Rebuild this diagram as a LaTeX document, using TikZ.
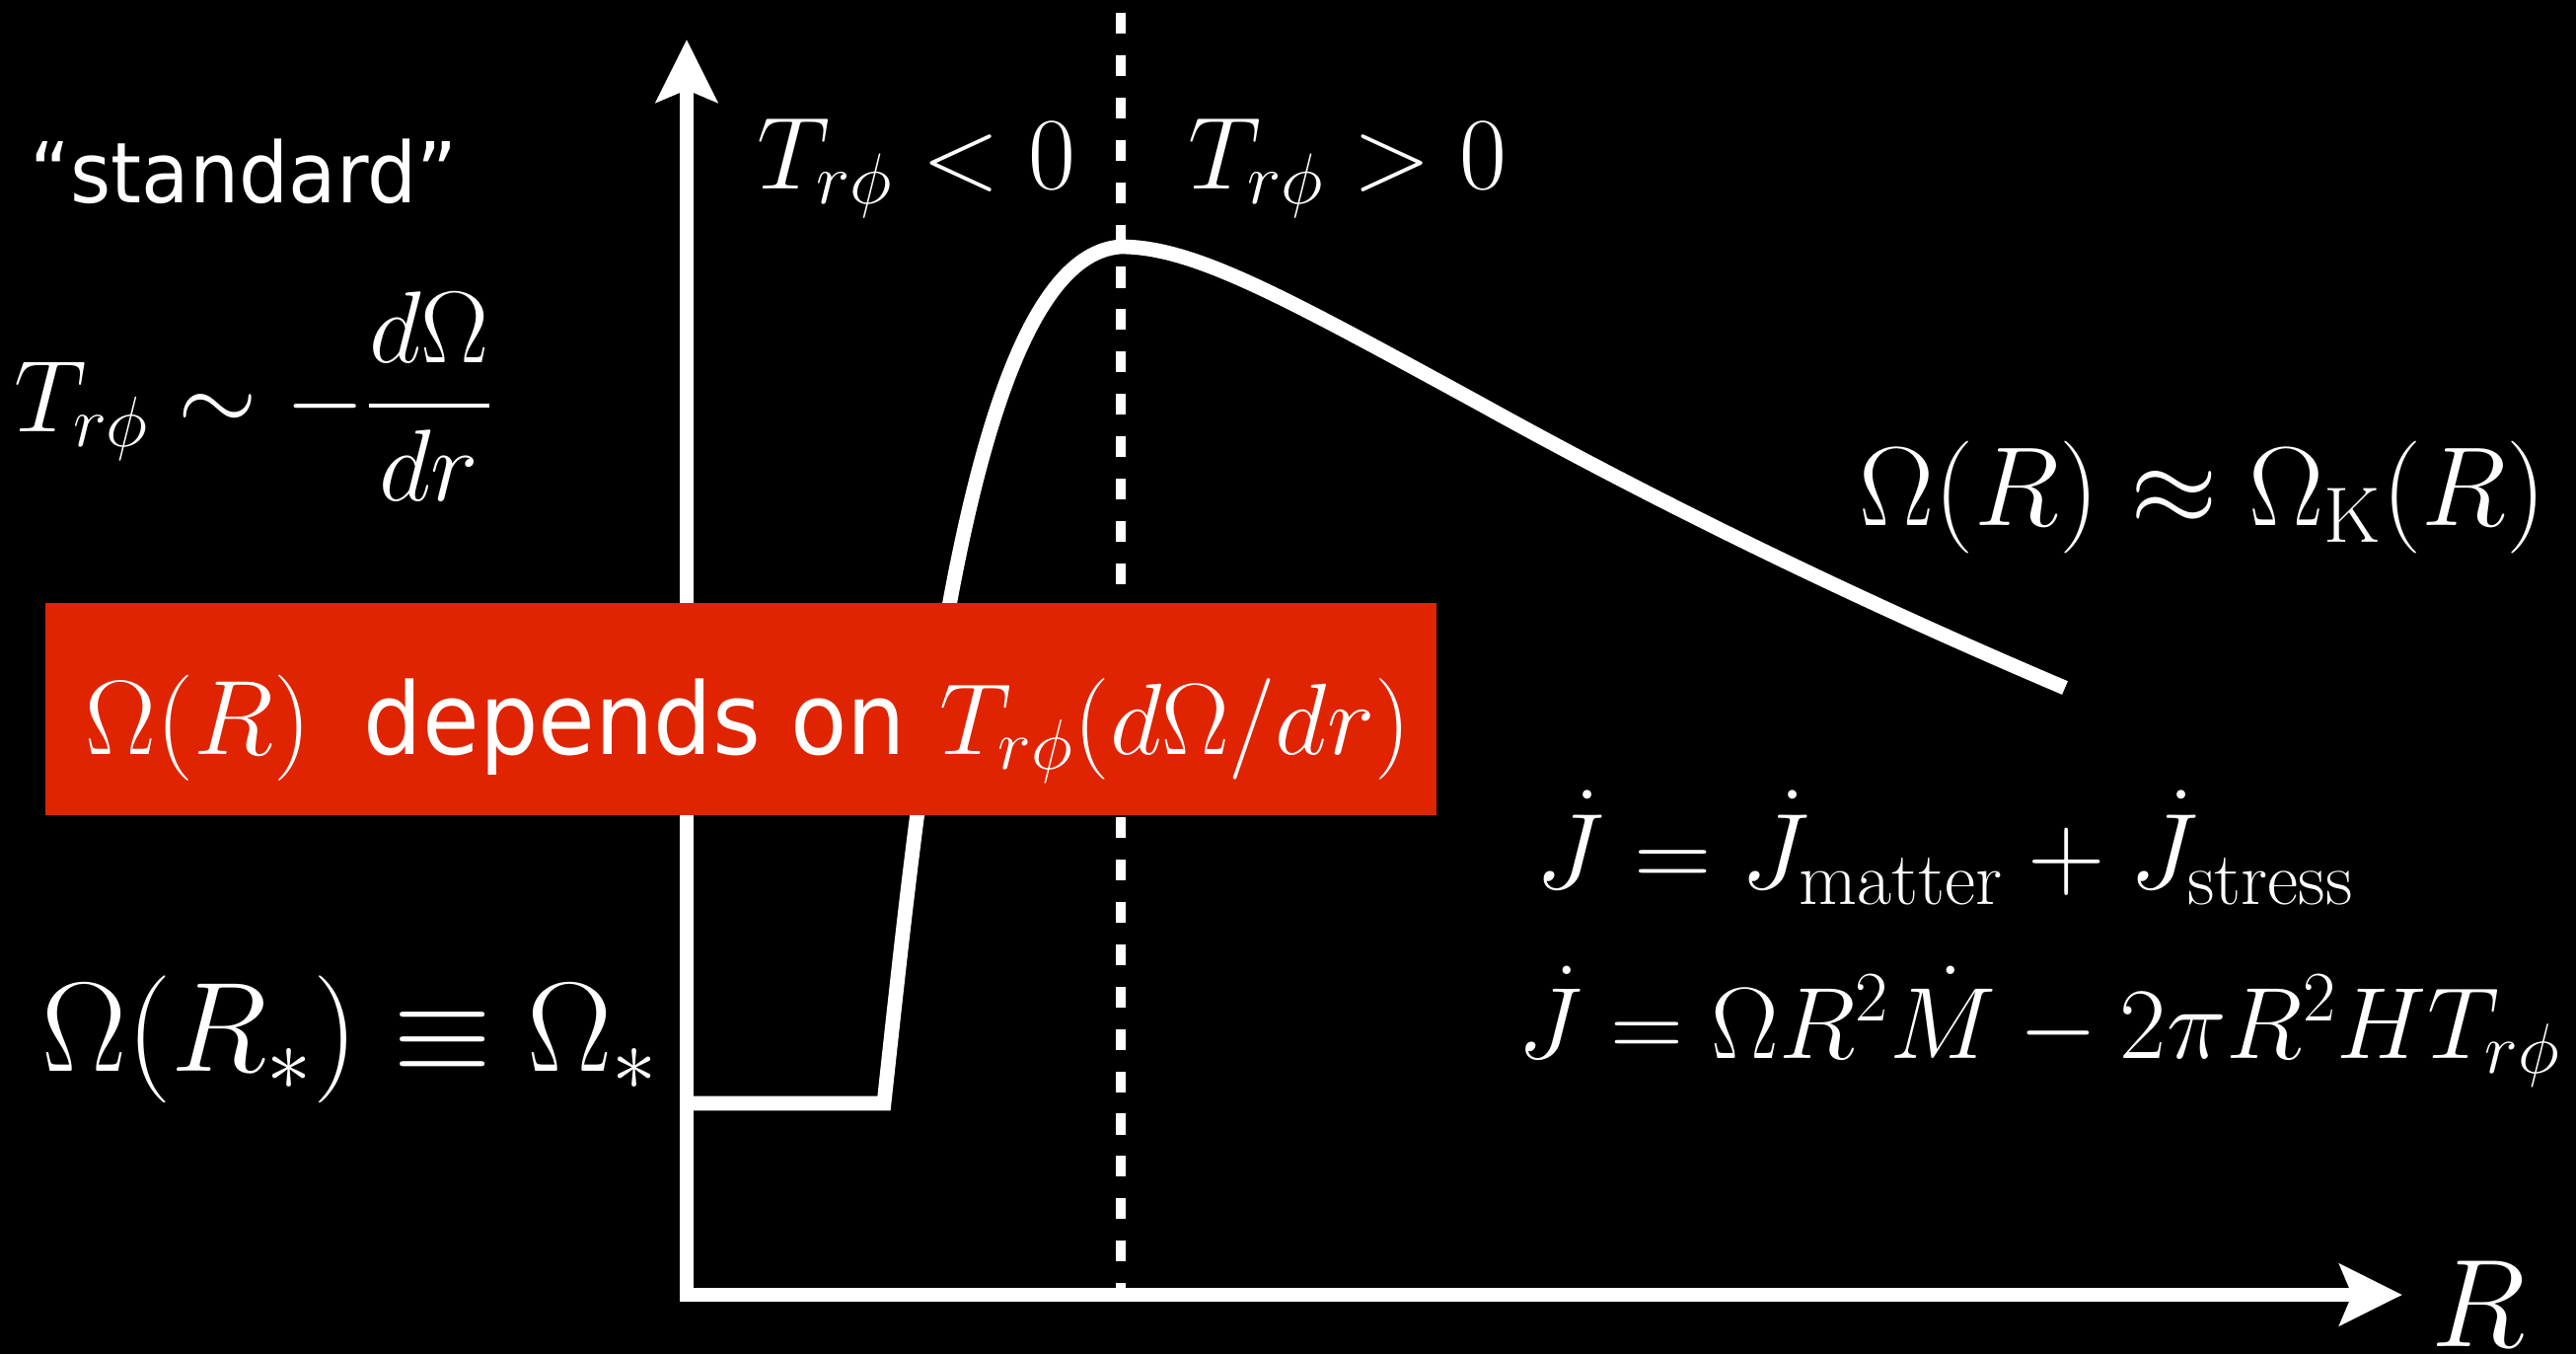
\RequirePackage{fix-cm}
\documentclass[tikz,border=0pt]{standalone}
\usepackage{amsmath}
\usepackage{fontspec}
\newfontfamily\slidefont[FakeStretch=0.93]{DejaVu Sans}
\usepackage{xcolor}
\definecolor{SlideRed}{RGB}{224, 36, 2}
\usepackage{tikz}
\usetikzlibrary{arrows.meta, positioning}

\begin{document}
\begin{tikzpicture}[
    x=0.01cm, y=-0.01cm,
    font=\slidefont,
    >={Stealth[length=18pt, width=17.5pt, inset=3.5pt]},
    % Styles
    axis_line/.style={white, line width=4.1pt, line join=miter},
    split_line/.style={white, line width=3.1pt, dash pattern=on 6pt off 6.2pt},
    rot_curve/.style={white, line width=4.2pt, line join=miter},
    math_lbl/.style={text=white, inner sep=0pt, anchor=base west, font=\fontsize{#1}{#1}\selectfont},
    math_lbl/.default=29.6,
    sans_lbl/.style={text=white, inner sep=0pt, anchor=base west, font=\slidefont\fontsize{#1}{#1}\selectfont},
    sans_lbl/.default=28.7,
    red_box/.style={rectangle, fill=SlideRed, draw=none, minimum width=14.1cm, minimum height=2.15cm, inner sep=0pt}
]

    % 1. BACKGROUND
    \useasboundingbox (0,0) rectangle (2611,1372);
    \fill[black] (0,0) rectangle (2611,1372);

    % 2. THE AXES
    \coordinate (origin) at (696,1312);
    \coordinate (ytip) at (696,40);
    \coordinate (xtip) at (2435,1312);
    \draw[axis_line, <->] (ytip) -- (origin) -- (xtip);
    \node[math_lbl=36] (raxis) at (2464,1364) {$R$};

    % 3. SIGN CHANGE OF THE STRESS
    \coordinate (split_top) at (1136,13);
    \coordinate (split_bot) at (1136,1312);
    \draw[split_line] (split_top) -- (split_bot);
    \node[math_lbl] (neg) at (767,191) {$T_{r\phi} < 0$};
    \node[math_lbl] (pos) at (1204,191) {$T_{r\phi} > 0$};

    % 4. THE ROTATION CURVE
    \coordinate (star) at (696,1118);
    \coordinate (kink) at (896,1118);
    \coordinate (peak) at (1136,250);
    \coordinate (mid) at (1500,409);
    \coordinate (outer) at (2093,697);
    \draw[rot_curve] (star) -- (kink)
        .. controls (935,760) and (985,260) .. (peak)
        .. controls (1210,250) and (1300,300) .. (mid)
        .. controls (1700,520) and (1900,615) .. (outer);

    % 5. LEFT LABELS
    \node[sans_lbl=24.2] (standard) at (30,205) {“standard”};
    \node[math_lbl=29.4] (stress_law) at (14,437) {$T_{r\phi} \sim -\dfrac{d\Omega}{dr}$};
    \node[math_lbl=36.7, anchor=base] (boundary) at (355,1085) {$\Omega(R_*) \equiv \Omega_*$};

    % 6. RIGHT LABELS
    \node[math_lbl=32.4, anchor=base] (kepler) at (2233,532) {$\Omega(R) \approx \Omega_{\mathrm{K}}(R)$};
    \node[math_lbl=31] (jdot_sum) at (1556,900) {$\dot{J} = \dot{J}_{\mathrm{matter}} + \dot{J}_{\mathrm{stress}}$};
    \node[math_lbl=29.2] (jdot_full) at (1538,1072) {$\dot{J} = \Omega R^2 \dot{M} - 2\pi R^2 H T_{r\phi}$};

    % 7. THE RED BANNER
    \node[red_box] (banner) at (751,718.5) {};
    \node[math_lbl=30.5] (banner_omega) at (86,764) {$\Omega(R)$};
    \node[sans_lbl] (banner_text) at (368,764) {depends on};
    \node[math_lbl=29.2] (banner_stress) at (952,764) {$T_{r\phi}(d\Omega/dr)$};

\end{tikzpicture}
\end{document}
